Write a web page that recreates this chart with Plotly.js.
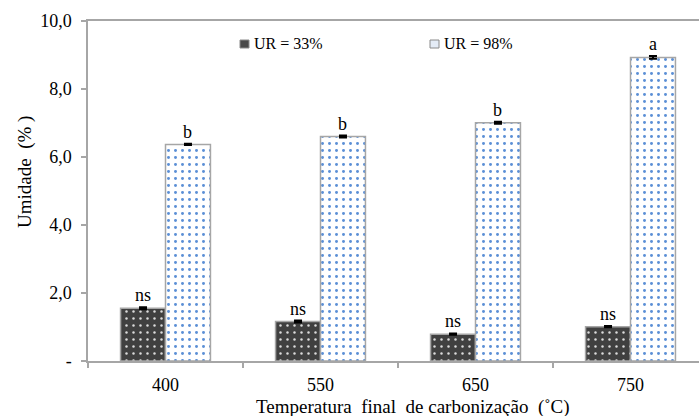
<!DOCTYPE html>
<html>
<head>
<meta charset="utf-8">
<script src="https://cdn.plot.ly/plotly-3.0.1.min.js"></script>
<style>
html,body{margin:0;padding:0;overflow:hidden;background:#fff;}
#chart{width:710px;height:416px;}
#chart text{font-family:'Liberation Serif', serif !important;}
</style>
</head>
<body>
<div id="chart"></div>
<script>
const categories = ['400', '550', '650', '750'];
const ur33 = [1.55, 1.16, 0.79, 1.01];
const ur98 = [6.37, 6.60, 7.01, 8.93];
const err33 = [0.03, 0.03, 0.02, 0.02];
const err98 = [0.02, 0.03, 0.03, 0.04];
const letters33 = ['ns', 'ns', 'ns', 'ns'];
const letters98 = ['b', 'b', 'b', 'a'];
const seriesNames = ['UR = 33%', 'UR = 98%'];
const yTickVals = [0, 2, 4, 6, 8, 10];
const yTickText = ['-', '2,0', '4,0', '6,0', '8,0', '10,0'];
const xTitle = 'Temperatura\u00a0\u00a0final\u00a0\u00a0de carbonização\u00a0\u00a0(˚C)';
const yTitle = 'Umidade\u00a0\u00a0(%\u00a0)';

const FONT = 'Liberation Serif';
const GRAY = '#a6a6a6';

const traces = [
  {
    type: 'bar', name: seriesNames[0], x: categories, y: ur33,
    marker: {
      color: '#404040',
      line: {color: GRAY, width: 1.5},
      pattern: {shape: '.', bgcolor: '#404040', fgcolor: '#dcdcdc', size: 7, solidity: 0.1}
    },
    error_y: {type: 'data', array: err33, visible: true, color: '#000', thickness: 2, width: 4}
  },
  {
    type: 'bar', name: seriesNames[1], x: categories, y: ur98,
    marker: {
      color: '#ffffff',
      line: {color: GRAY, width: 1.5},
      pattern: {shape: '.', bgcolor: '#ffffff', fgcolor: '#5b8fd6', size: 7, solidity: 0.14}
    },
    error_y: {type: 'data', array: err98, visible: true, color: '#000', thickness: 2, width: 4}
  }
];

const off = 0.145;
const annotations = [];
categories.forEach((c, i) => {
  annotations.push({x: i - off, y: ur33[i] + err33[i], xref: 'x', yref: 'y', text: letters33[i],
    showarrow: false, yanchor: 'bottom', yshift: 0, font: {family: FONT, size: 18, color: '#000'}});
  annotations.push({x: i + off, y: ur98[i] + err98[i], xref: 'x', yref: 'y', text: letters98[i],
    showarrow: false, yanchor: 'bottom', yshift: 0, font: {family: FONT, size: 18, color: '#000'}});
});
// axis titles
annotations.push({x: (413 - 88) / 620, y: 0, xref: 'paper', yref: 'paper', yanchor: 'top', yshift: -33,
  text: xTitle, showarrow: false, font: {family: FONT, size: 19, color: '#000'}});
annotations.push({x: 0, y: (361 - 172) / 340, xref: 'paper', yref: 'paper', xanchor: 'center', xshift: -63,
  text: yTitle, textangle: -90, showarrow: false, font: {family: FONT, size: 19, color: '#000'}});
// legend texts
const legX = [252, 442];
seriesNames.forEach((n, i) => {
  annotations.push({x: (legX[i] - 88) / 620, y: (361 - 44) / 340, xref: 'paper', yref: 'paper',
    xanchor: 'left', yanchor: 'middle', text: n, showarrow: false,
    font: {family: FONT, size: 16, color: '#000'}});
});
const legSq = [240, 430];
const legFill = ['#4a4a4a', '#e4ecf7'];
const shapes = legSq.map((x0, i) => ({
  type: 'rect', xref: 'paper', yref: 'paper',
  x0: (x0 - 88) / 620, x1: (x0 + 9 - 88) / 620,
  y0: (361 - 48) / 340, y1: (361 - 40) / 340,
  fillcolor: legFill[i], line: {color: '#8a8a8a', width: 1}
}));

const layout = {
  width: 710, height: 416,
  margin: {l: 88, r: 2, t: 21, b: 55},
  paper_bgcolor: '#fff', plot_bgcolor: '#fff',
  showlegend: false,
  barmode: 'group', bargap: 0.42, bargroupgap: 0,
  font: {family: FONT, size: 18, color: '#000'},
  xaxis: {
    type: 'category', range: [-0.5, 3.5],
    showline: true, linecolor: GRAY, linewidth: 1.5, mirror: true,
    ticks: 'outside', tickson: 'boundaries', ticklen: 5, tickcolor: GRAY, tickwidth: 1.5,
    showgrid: false, zeroline: false,
    tickfont: {family: FONT, size: 18, color: '#000'}, ticklabelstandoff: 7
  },
  yaxis: {
    range: [0, 10], tickvals: yTickVals, ticktext: yTickText,
    showline: true, linecolor: GRAY, linewidth: 1.5,
    ticks: 'outside', ticklen: 5, tickcolor: GRAY, tickwidth: 1.5,
    showgrid: false, zeroline: false,
    tickfont: {family: FONT, size: 18, color: '#000'}, ticklabelstandoff: 6
  },
  annotations: annotations,
  shapes: shapes
};

Plotly.newPlot('chart', traces, layout, {displayModeBar: false});
</script>
</body>
</html>
